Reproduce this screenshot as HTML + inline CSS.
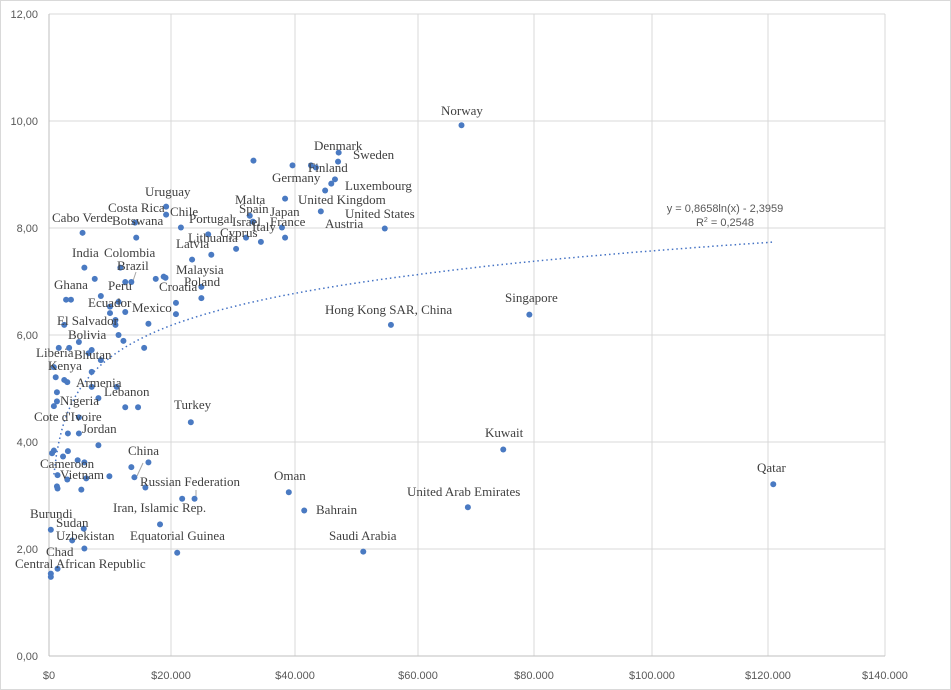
<!DOCTYPE html>
<html><head><meta charset="utf-8"><style>
html,body{margin:0;padding:0;background:#fff;}
#wrap{position:relative;width:951px;height:690px;overflow:hidden;}
svg text{font-family:"Liberation Serif",serif;}
</style></head><body>
<div id="wrap">
<svg id="chart" width="951" height="690"></svg>
</div>
<script>
// GDP per capita (thousand $) and life ladder score
const gdp = [5.5,14.3,14.1,19.2,19.2,21.6,5.8,11.7,7.5,12.5,13.5,17.5,19.1,23.4,24.9,24.9,2.8,3.6,8.5,11.4,10.0,10.0,12.5,10.9,10.9,2.5,20.8,20.8,16.3,11.4,12.2,4.9,15.6,1.6,3.3,7.0,8.5,7.0,0.8,1.1,2.5,3.0,6.5,1.3,7.0,11.1,1.3,0.8,8.1,12.5,14.6,23.2,4.9,3.1,4.9,8.1,0.8,0.5,2.3,3.1,4.7,5.8,16.3,13.5,14.0,1.4,3.0,6.1,9.9,1.3,1.4,5.3,15.8,21.8,23.8,0.3,5.7,18.2,3.8,5.8,21.0,1.4,0.3,0.3,47.1,47.0,33.3,39.6,42.6,43.4,46.5,45.9,44.9,38.4,44.2,32.7,33.2,26.0,32.1,37.9,38.4,34.5,30.5,54.6,26.5,18.8,67.5,55.6,79.2,74.7,120.9,68.6,39.0,41.5,51.1];
const score = [7.91,7.82,8.10,8.25,8.40,8.01,7.26,7.26,7.05,6.99,6.99,7.05,7.07,7.41,6.90,6.69,6.66,6.66,6.73,6.62,6.53,6.41,6.43,6.28,6.19,6.19,6.60,6.39,6.21,6.00,5.89,5.87,5.76,5.76,5.76,5.72,5.53,5.31,5.40,5.21,5.16,5.12,5.66,4.93,5.03,5.03,4.76,4.67,4.82,4.65,4.65,4.37,4.46,4.16,4.16,3.94,3.84,3.79,3.73,3.83,3.66,3.62,3.62,3.53,3.34,3.38,3.30,3.32,3.36,3.17,3.13,3.11,3.15,2.94,2.94,2.36,2.38,2.46,2.16,2.01,1.93,1.63,1.54,1.48,9.41,9.24,9.26,9.17,9.17,9.13,8.91,8.83,8.70,8.55,8.31,8.23,8.12,7.88,7.82,8.01,7.82,7.74,7.61,7.99,7.50,7.09,9.92,6.19,6.38,3.86,3.21,2.78,3.06,2.72,1.95];
const xTicks = [0,20,40,60,80,100,120,140];
const xTickLabels = ["$0","$20.000","$40.000","$60.000","$80.000","$100.000","$120.000","$140.000"];
const yTicks = [0,2,4,6,8,10,12];
const yTickLabels = ["0,00","2,00","4,00","6,00","8,00","10,00","12,00"];
const trendA = 0.8658, trendB = -2.3959;
const labels = [
["Norway",441,115],["Denmark",314,150],["Sweden",353,159],["Finland",308,172],["Germany",272,182],["Luxembourg",345,190],["United Kingdom",298,204],["United States",345,218],["Malta",235,204],["Spain",239,213],["Japan",270,216],["Israel",232,226],["France",270,226],["Italy",252,231],["Austria",325,228],["Portugal",189,223],["Cyprus",220,237],["Lithuania",188,242],["Latvia",176,248],["Uruguay",145,196],["Costa Rica",108,212],["Chile",170,216],["Botswana",112,225],["Cabo Verde",52,222],["India",72,257],["Colombia",104,257],["Brazil",117,270],["Peru",108,290],["Ghana",54,289],["Malaysia",176,274],["Poland",184,286],["Croatia",159,291],["Ecuador",88,307],["Mexico",132,312],["El Salvador",57,325],["Bolivia",68,339],["Liberia",36,357],["Bhutan",74,359],["Kenya",48,370],["Armenia",76,387],["Lebanon",104,396],["Nigeria",60,405],["Turkey",174,409],["Cote d'Ivoire",34,421],["Jordan",82,433],["China",128,455],["Cameroon",40,468],["Vietnam",60,479],["Russian Federation",140,486],["Iran, Islamic Rep.",113,512],["Burundi",30,518],["Sudan",56,527],["Uzbekistan",56,540],["Equatorial Guinea",130,540],["Chad",46,556],["Central African Republic",15,568],["Hong Kong SAR, China",325,314],["Singapore",505,302],["Kuwait",485,437],["Qatar",757,472],["United Arab Emirates",407,496],["Oman",274,480],["Bahrain",316,514],["Saudi Arabia",329,540]];

const xTickPx = [49,171,295,418,534,652,768,885];
const Y0 = 656, YU = 53.5;
function xs(v){ // piecewise linear through tick gridlines
  for(let i=0;i<xTicks.length-1;i++){
    if(v<=xTicks[i+1]||i===xTicks.length-2){
      return xTickPx[i]+(v-xTicks[i])/(xTicks[i+1]-xTicks[i])*(xTickPx[i+1]-xTickPx[i]);
    }
  }
}
function ys(v){return Y0 - v*YU;}
const NS="http://www.w3.org/2000/svg";
const svg=document.getElementById('chart');
function mk(t,a,p){const e=document.createElementNS(NS,t);for(const k in a)e.setAttribute(k,a[k]);(p||svg).appendChild(e);return e;}

mk('rect',{x:0.5,y:0.5,width:950,height:689,fill:'#fff',stroke:'#d9d9d9'});
const grid=mk('g',{});


yTicks.forEach((t,i)=>{
  if(t>0){mk('line',{x1:49,x2:885,y1:ys(t),y2:ys(t),stroke:'#d9d9d9'},grid);}
  const tx=mk('text',{x:38,y:ys(t)+4,'text-anchor':'end','font-size':'11',fill:'#595959',style:'font-family:"Liberation Sans",sans-serif'});
  tx.textContent=yTickLabels[i];
  
  
});
xTicks.forEach((t,i)=>{
  if(t>0){mk('line',{x1:xs(t),x2:xs(t),y1:14,y2:Y0,stroke:'#d9d9d9'},grid);}
  const tx=mk('text',{x:xs(t),y:679,'text-anchor':'middle','font-size':'11',fill:'#595959',style:'font-family:"Liberation Sans",sans-serif'});
  tx.textContent=xTickLabels[i];
  
  
});
const xa=mk('line',{x1:49,x2:885,y1:Y0,y2:Y0,stroke:'#bfbfbf'});


const ya=mk('line',{x1:49,x2:49,y1:14,y2:Y0,stroke:'#bfbfbf'});



// trendline
let d='';
for(let v=0.8;v<=121;v+=0.4){const yv=trendA*Math.log(v*1000)+trendB;d+=(d?'L':'M')+xs(v).toFixed(1)+','+ys(yv).toFixed(1);}
const tl=mk('path',{d:d,fill:'none',stroke:'#4472c4','stroke-width':'1.5','stroke-dasharray':'1.5 3'});


const eq=mk('text',{x:725,y:212,'text-anchor':'middle','font-size':'11',fill:'#595959',style:'font-family:"Liberation Sans",sans-serif'});
eq.textContent='y = 0,8658ln(x) - 2,3959';


const r2=mk('text',{x:725,y:226,'text-anchor':'middle','font-size':'11',fill:'#595959',style:'font-family:"Liberation Sans",sans-serif'});
r2.innerHTML='R<tspan font-size="7" dy="-4">2</tspan><tspan dy="4"> = 0,2548</tspan>';



// leader lines
[[136,272,133,281],[143,463,137,476],[196,490,196,496]].forEach(l=>{
  const ln=mk('line',{x1:l[0],y1:l[1],x2:l[2],y2:l[3],stroke:'#a6a6a6'});
  
  
});

const pts=mk('g',{});


gdp.forEach((g,i)=>{
  const c=mk('circle',{cx:xs(g),cy:ys(score[i]),r:3,fill:'#4a7ac2'},pts);
  
  
});
const lg=mk('g',{});
labels.forEach(l=>{
  const t=mk('text',{x:l[1],y:l[2],'font-size':'13',fill:'#3f3f3f'},lg);
  t.textContent=l[0];
  
  
});
</script>
</body></html>
